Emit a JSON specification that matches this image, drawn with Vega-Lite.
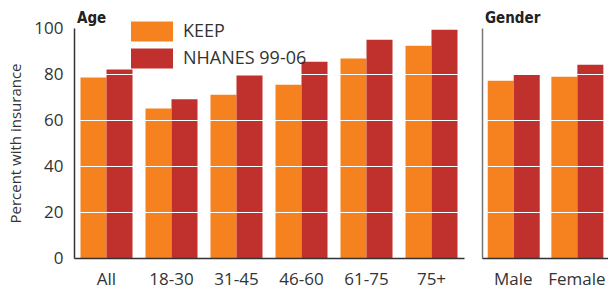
{
  "$schema": "https://vega.github.io/schema/vega-lite/v6.json",
  "padding": {"left": 8, "top": 11, "right": 0, "bottom": 3},
  "config": {
    "view": {"stroke": null},
    "font": "Open Sans",
    "axis": {"labelFont": "Open Sans", "labelColor": "#333", "labelFontSize": 17, "titleFont": "Open Sans", "titleFontWeight": "normal", "titleColor": "#333"},
    "title": {"font": "DejaVu Sans Condensed, Liberation Sans, sans-serif", "fontWeight": "bold", "fontSize": 15, "anchor": "start", "frame": "group", "color": "#222", "dx": 3},
    "concat": {"spacing": 18}
  },
  "datasets": {
    "age": [
      {"group": "All", "series": "KEEP", "percent": 78.5},
      {"group": "All", "series": "NHANES 99-06", "percent": 82},
      {"group": "18-30", "series": "KEEP", "percent": 65},
      {"group": "18-30", "series": "NHANES 99-06", "percent": 69},
      {"group": "31-45", "series": "KEEP", "percent": 71},
      {"group": "31-45", "series": "NHANES 99-06", "percent": 79.3},
      {"group": "46-60", "series": "KEEP", "percent": 75.3},
      {"group": "46-60", "series": "NHANES 99-06", "percent": 85.3},
      {"group": "61-75", "series": "KEEP", "percent": 86.7},
      {"group": "61-75", "series": "NHANES 99-06", "percent": 94.9},
      {"group": "75+", "series": "KEEP", "percent": 92.3},
      {"group": "75+", "series": "NHANES 99-06", "percent": 99.2}
    ],
    "gender": [
      {"group": "Male", "series": "KEEP", "percent": 77.1},
      {"group": "Male", "series": "NHANES 99-06", "percent": 79.7},
      {"group": "Female", "series": "KEEP", "percent": 78.8},
      {"group": "Female", "series": "NHANES 99-06", "percent": 84}
    ]
  },
  "hconcat": [
    {
      "title": {"text": "Age", "offset": -7},
      "width": 390,
      "height": 230,
      "data": {"name": "age"},
      "mark": {"type": "bar"},
      "encoding": {
        "x": {"field": "group", "type": "nominal", "sort": ["All", "18-30", "31-45", "46-60", "61-75", "75+"],
              "scale": {"paddingInner": 0.2, "paddingOuter": 0.1},
              "axis": {"title": null, "labelAngle": 0, "ticks": false, "domainColor": "#333", "domainWidth": 1.5, "labelPadding": 13, "zindex": 2}},
        "xOffset": {"field": "series", "type": "nominal", "sort": ["KEEP", "NHANES 99-06"]},
        "y": {"field": "percent", "type": "quantitative", "scale": {"domain": [0, 100], "nice": false},
              "axis": {"title": "Percent with insurance", "titleFontSize": 15, "titlePadding": 10, "values": [0, 20, 40, 60, 80, 100],
                       "grid": true, "gridColor": {"condition": {"test": "datum.value === 0", "value": "transparent"}, "value": "white"}, "gridWidth": 1,
                       "zindex": 1, "ticks": false, "domainColor": "#333", "domainWidth": 1.5, "labelPadding": 11}},
        "color": {"field": "series", "type": "nominal",
                  "scale": {"domain": ["KEEP", "NHANES 99-06"], "range": ["#F5821F", "#C0302C"]},
                  "legend": {"orient": "none", "legendX": 57, "legendY": -10, "title": null,
                             "symbolType": "M-1,-0.476H1V0.476H-1Z", "symbolSize": 1764, "symbolStrokeWidth": 0, "symbolOpacity": 1,
                             "labelFont": "Open Sans", "labelFontSize": 18, "labelColor": "#333", "labelOffset": 10, "rowPadding": 0, "clipHeight": 27, "padding": 0}}
      }
    },
    {
      "title": {"text": "Gender", "offset": 2},
      "width": 126,
      "height": 230,
      "data": {"name": "gender"},
      "mark": {"type": "bar"},
      "encoding": {
        "x": {"field": "group", "type": "nominal", "sort": ["Male", "Female"],
              "scale": {"paddingInner": 0.2, "paddingOuter": 0.09},
              "axis": {"title": null, "labelAngle": 0, "ticks": false, "domainColor": "#333", "domainWidth": 1.5, "labelPadding": 13, "zindex": 2}},
        "xOffset": {"field": "series", "type": "nominal", "sort": ["KEEP", "NHANES 99-06"]},
        "y": {"field": "percent", "type": "quantitative", "scale": {"domain": [0, 100], "nice": false},
              "axis": {"title": null, "labels": false, "values": [0, 20, 40, 60, 80, 100],
                       "grid": true, "gridColor": {"condition": {"test": "datum.value === 0", "value": "transparent"}, "value": "white"}, "gridWidth": 1,
                       "zindex": 1, "ticks": false, "domainColor": "#777", "domainWidth": 1.5}},
        "color": {"field": "series", "type": "nominal",
                  "scale": {"domain": ["KEEP", "NHANES 99-06"], "range": ["#F5821F", "#C0302C"]},
                  "legend": {"orient": "none", "legendX": 57, "legendY": -10, "title": null,
                             "symbolType": "M-1,-0.476H1V0.476H-1Z", "symbolSize": 1764, "symbolStrokeWidth": 0, "symbolOpacity": 1,
                             "labelFont": "Open Sans", "labelFontSize": 18, "labelColor": "#333", "labelOffset": 10, "rowPadding": 0, "clipHeight": 27, "padding": 0}}
      }
    }
  ],
  "resolve": {"scale": {"x": "independent"}}
}
